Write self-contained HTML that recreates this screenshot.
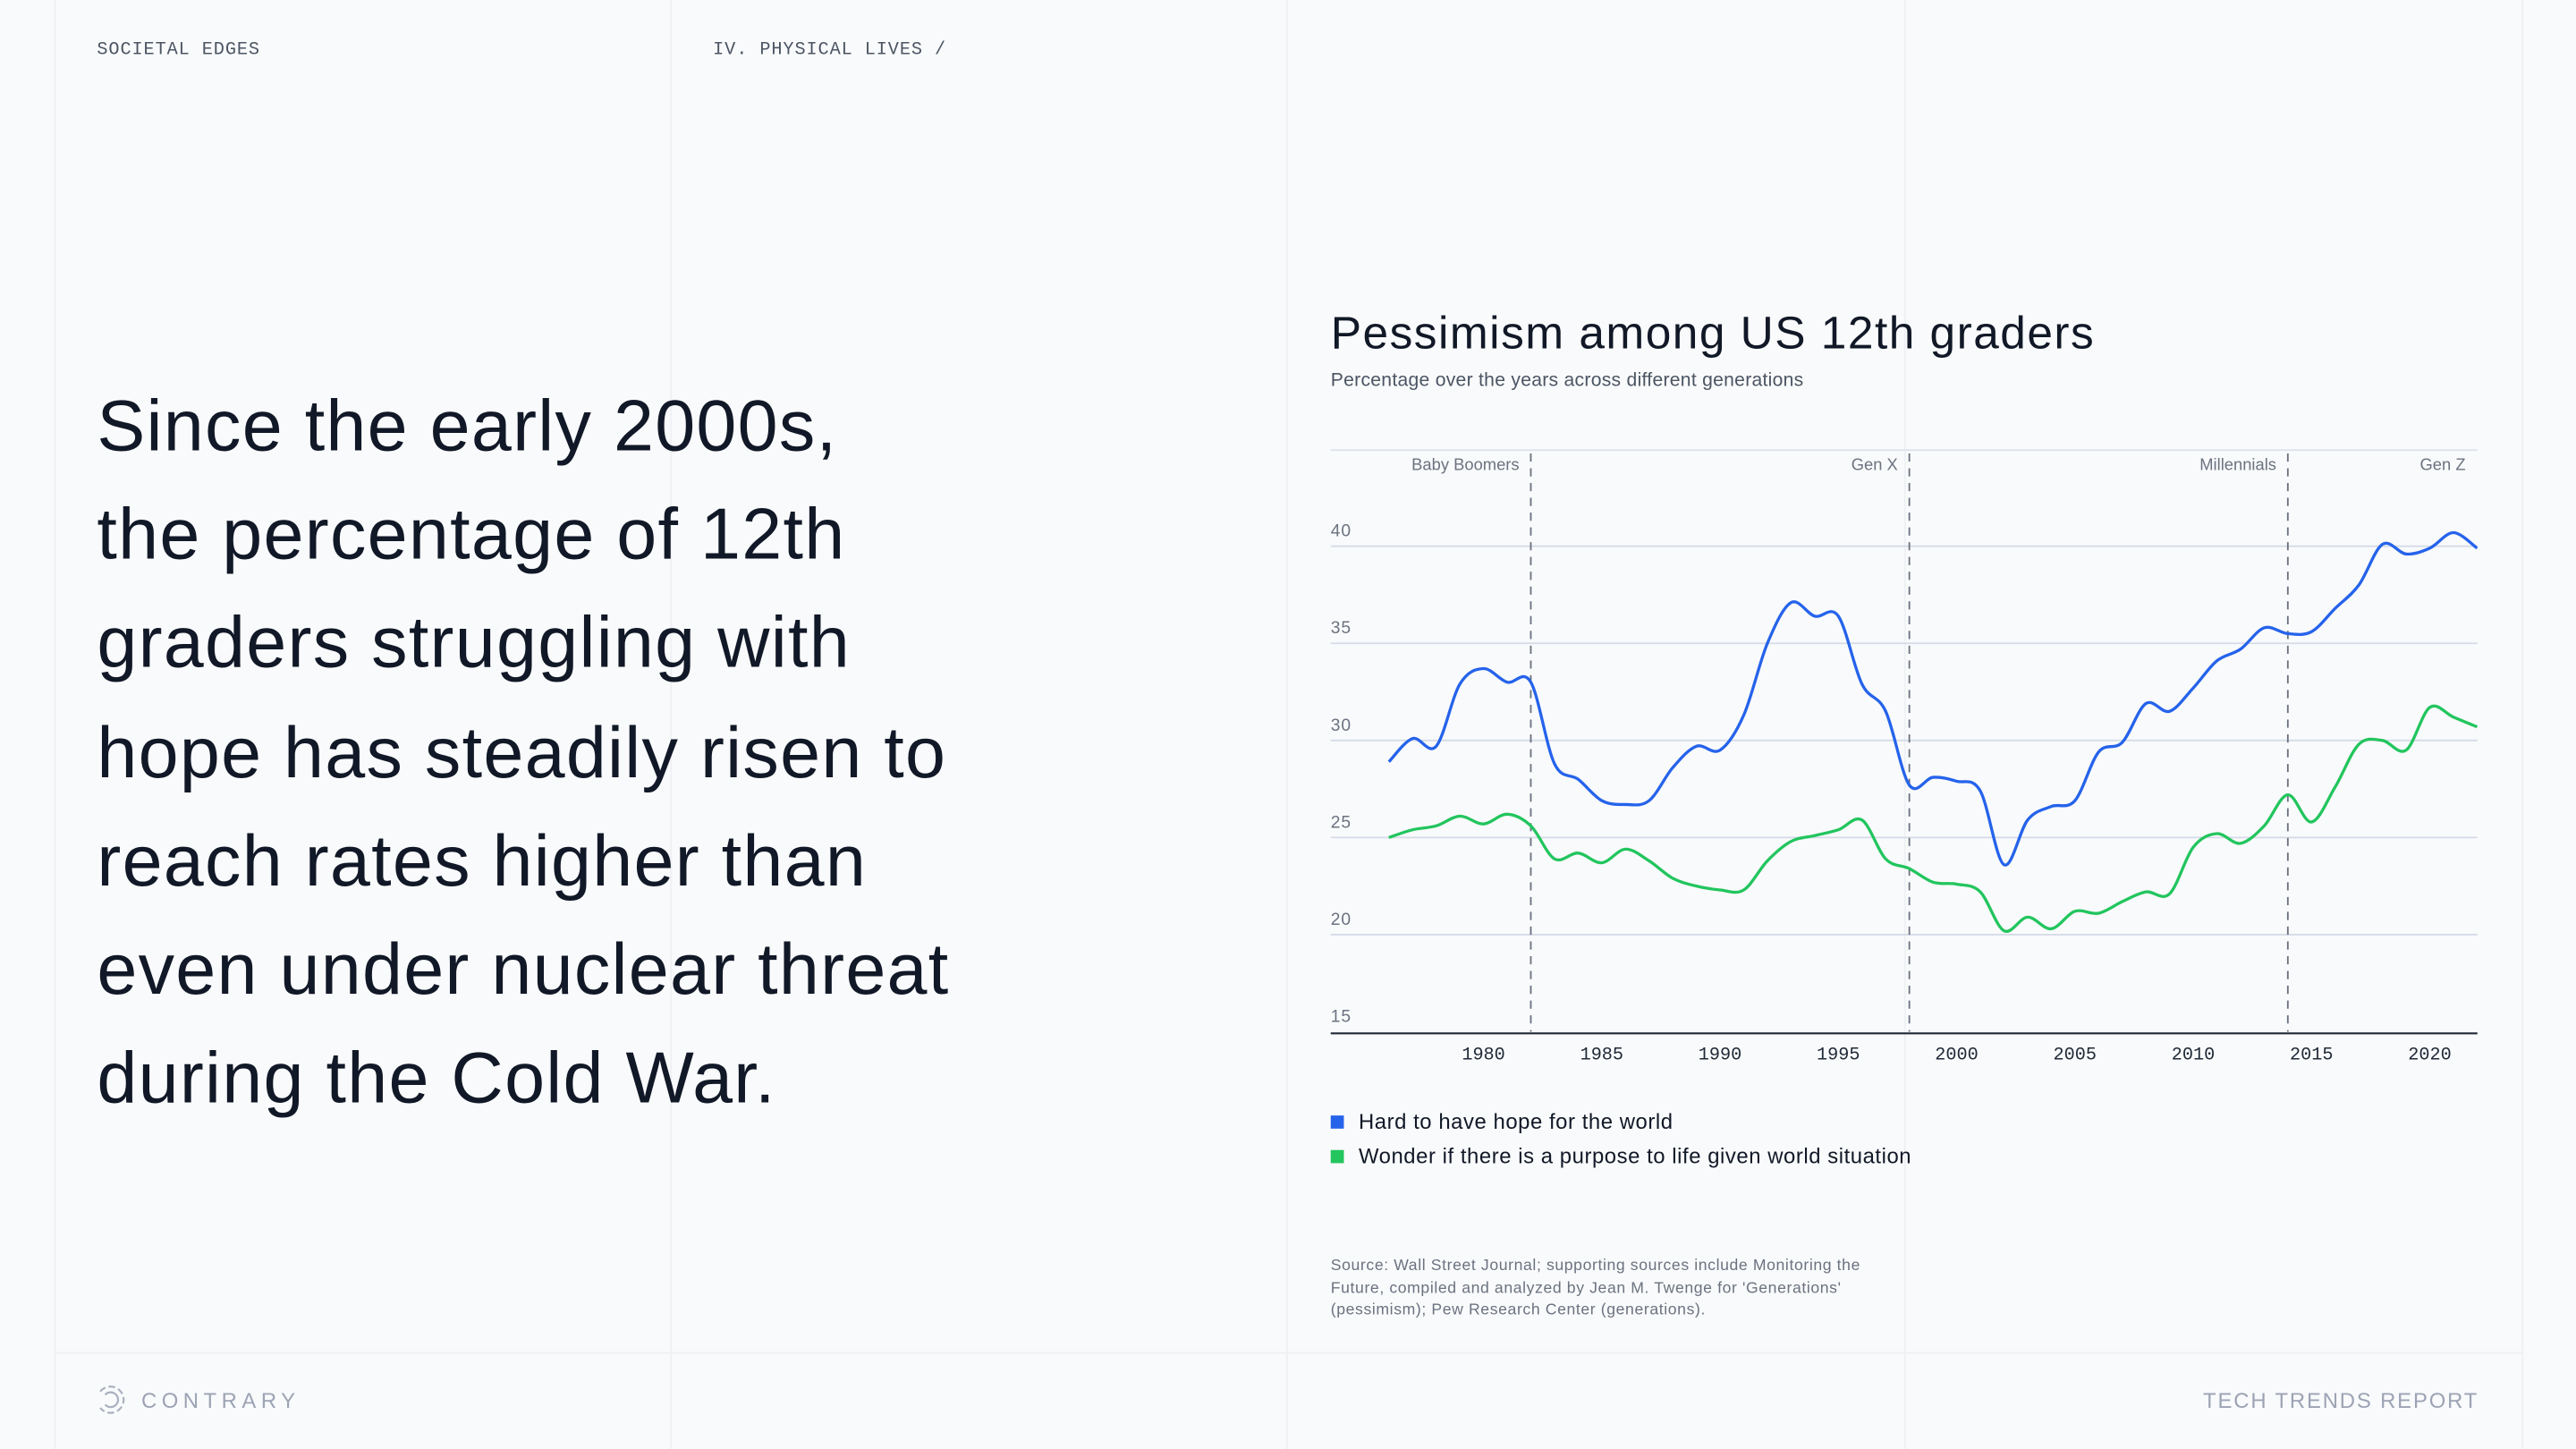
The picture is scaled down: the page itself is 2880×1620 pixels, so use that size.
<!DOCTYPE html>
<html><head><meta charset="utf-8"><style>
html,body{margin:0;padding:0;background:#f9fafb;}
#root{position:absolute;left:0;top:0;width:1568px;height:882px;transform:scale(1.836735);transform-origin:0 0;background:#f9fafb;font-family:"Liberation Sans",sans-serif;overflow:hidden}
.vl{position:absolute;top:0;width:1px;height:882px;background:#eef0f3}
.abs{position:absolute;white-space:nowrap}
.mono{font-family:"Liberation Mono",monospace;font-size:11px;color:#4b5563;letter-spacing:0.5px}
</style></head><body>
<div id="root">
<div class="vl" style="left:33px"></div>
<div class="vl" style="left:408px"></div>
<div class="vl" style="left:783px"></div>
<div class="vl" style="left:1159px"></div>
<div class="vl" style="left:1535px"></div>
<div class="abs" style="left:33px;top:823px;width:1502px;height:1px;background:#eef0f3"></div>
<div class="abs mono" style="left:59px;top:25px">SOCIETAL EDGES</div>
<div class="abs mono" style="left:434px;top:25px">IV. PHYSICAL LIVES /</div>
<div class="abs" style="left:59px;top:227px;font-size:44px;line-height:66.2px;color:#111827;letter-spacing:0.7px">Since the early 2000s,<br>the percentage of 12th<br>graders struggling with<br>hope has steadily risen to<br>reach rates higher than<br>even under nuclear threat<br>during the Cold War.</div>
<div class="abs" style="left:810px;top:187px;font-size:28px;color:#111827;letter-spacing:0.8px">Pessimism among US 12th graders</div>
<div class="abs" style="left:810px;top:226px;font-size:11.5px;color:#4b5563;letter-spacing:0.15px">Percentage over the years across different generations</div>
<svg id="chart" class="abs" style="left:0;top:0" width="1568" height="882"></svg>
<div class="abs" style="left:810px;top:675px;font-size:13px;color:#111827;letter-spacing:0.3px"><span style="display:inline-block;width:8px;height:8px;background:#2563eb;margin-right:9px"></span>Hard to have hope for the world</div>
<div class="abs" style="left:810px;top:696px;font-size:13px;color:#111827;letter-spacing:0.3px"><span style="display:inline-block;width:8px;height:8px;background:#22c55e;margin-right:9px"></span>Wonder if there is a purpose to life given world situation</div>
<div class="abs" style="left:810px;top:764px;font-size:9.6px;line-height:13.6px;color:#6b7280;letter-spacing:0.33px">Source: Wall Street Journal; supporting sources include Monitoring the<br>Future, compiled and analyzed by Jean M. Twenge for 'Generations'<br>(pessimism); Pew Research Center (generations).</div>
<svg class="abs" style="left:58px;top:843px" width="18" height="18"><g fill="none" stroke="#aab0c0" stroke-width="1.2"><path d="M3 4 A8 8 0 1 1 3 14" stroke-dasharray="4 2"/><path d="M6 6 A4.5 4.5 0 1 1 6 12"/></g></svg>
<div class="abs" style="left:86px;top:845px;font-size:13px;letter-spacing:3px;color:#9ca3b4">CONTRARY</div>
<div class="abs" style="left:1341px;top:845px;font-size:13px;letter-spacing:1px;color:#9ca3b4">TECH TRENDS REPORT</div>
</div>
<script>
const years=[1976,1977,1978,1979,1980,1981,1982,1983,1984,1985,1986,1987,1988,1989,1990,1991,1992,1993,1994,1995,1996,1997,1998,1999,2000,2001,2002,2003,2004,2005,2006,2007,2008,2009,2010,2011,2012,2013,2014,2015,2016,2017,2018,2019,2020,2021,2022];
const hopeValues=[28.9,30.1,29.7,32.9,33.7,33.0,33.0,28.8,28.0,26.9,26.7,26.9,28.6,29.7,29.5,31.3,35.0,37.1,36.4,36.4,32.9,31.5,27.7,28.1,27.9,27.4,23.6,25.9,26.6,26.9,29.4,29.9,31.9,31.5,32.7,34.1,34.7,35.8,35.5,35.6,36.8,38.0,40.1,39.6,39.9,40.7,39.9];
const purposeValues=[25.0,25.4,25.6,26.1,25.7,26.2,25.6,23.9,24.2,23.7,24.4,23.8,22.9,22.5,22.3,22.3,23.8,24.8,25.1,25.4,25.9,23.9,23.4,22.7,22.6,22.2,20.2,20.9,20.3,21.2,21.1,21.7,22.2,22.1,24.5,25.2,24.7,25.6,27.2,25.8,27.6,29.8,30.0,29.5,31.7,31.2,30.7];
const yTicks=[15,20,25,30,35,40];
const xTicks=[1980,1985,1990,1995,2000,2005,2010,2015,2020];
const genBoundaries=[1982,1998,2014];
const genLabels=["Baby Boomers","Gen X","Millennials","Gen Z"];
const genLabelYears=[1982,1998,2014,2022];
const NS="http://www.w3.org/2000/svg";
const svg=document.getElementById('chart');
const X=y=>903+(y-1980)*14.4;
const Y=v=>628-(v-15)*11.82;
function mk(t,a,txt){const e=document.createElementNS(NS,t);for(const k in a)e.setAttribute(k,a[k]);if(txt!==undefined)e.textContent=txt;svg.appendChild(e);return e;}
let e=mk('line',{x1:810,x2:1508,y1:274,y2:274,stroke:'#dbe1ec','stroke-width':1});

yTicks.forEach(t=>{
  if(t>15){let g=mk('line',{x1:810,x2:1508,y1:Y(t),y2:Y(t),stroke:'#d5dbe8','stroke-width':1});
  }
  let l=mk('text',{x:810,y:Y(t)-6,'font-size':10.5,fill:'#6b7280','font-family':'Liberation Sans, sans-serif','letter-spacing':'0.5'},t);
  
});
e=mk('line',{x1:810,x2:1508,y1:Y(15)+1,y2:Y(15)+1,stroke:'#1f2937','stroke-width':1.2});

xTicks.forEach(t=>{let l=mk('text',{x:X(t),y:645,'font-size':11,fill:'#1f2937','text-anchor':'middle','font-family':'Liberation Mono, monospace'},t);
});
genBoundaries.forEach(b=>{let l=mk('line',{x1:X(b),x2:X(b),y1:276,y2:Y(15),stroke:'#6b7280','stroke-width':1,'stroke-dasharray':'5 4'});
});
genLabels.forEach((g,i)=>{let l=mk('text',{x:X(genLabelYears[i])-7,y:286,'font-size':10,fill:'#6b7280','text-anchor':'end','font-family':'Liberation Sans, sans-serif'},g);
});
function path(vals){const p=years.map((y,i)=>[X(y),Y(vals[i])]);let d='M'+p[0][0]+','+p[0][1];
for(let i=0;i<p.length-1;i++){const p0=p[i-1]||p[i],p1=p[i],p2=p[i+1],p3=p[i+2]||p2;
const c1=[p1[0]+(p2[0]-p0[0])/6,p1[1]+(p2[1]-p0[1])/6],c2=[p2[0]-(p3[0]-p1[0])/6,p2[1]-(p3[1]-p1[1])/6];
d+=` C${c1[0]},${c1[1]} ${c2[0]},${c2[1]} ${p2[0]},${p2[1]}`;}return d;}
let s1=mk('path',{d:path(hopeValues),fill:'none',stroke:'#2563eb','stroke-width':1.8});

let s2=mk('path',{d:path(purposeValues),fill:'none',stroke:'#22c55e','stroke-width':1.8});

</script>
</body></html>
